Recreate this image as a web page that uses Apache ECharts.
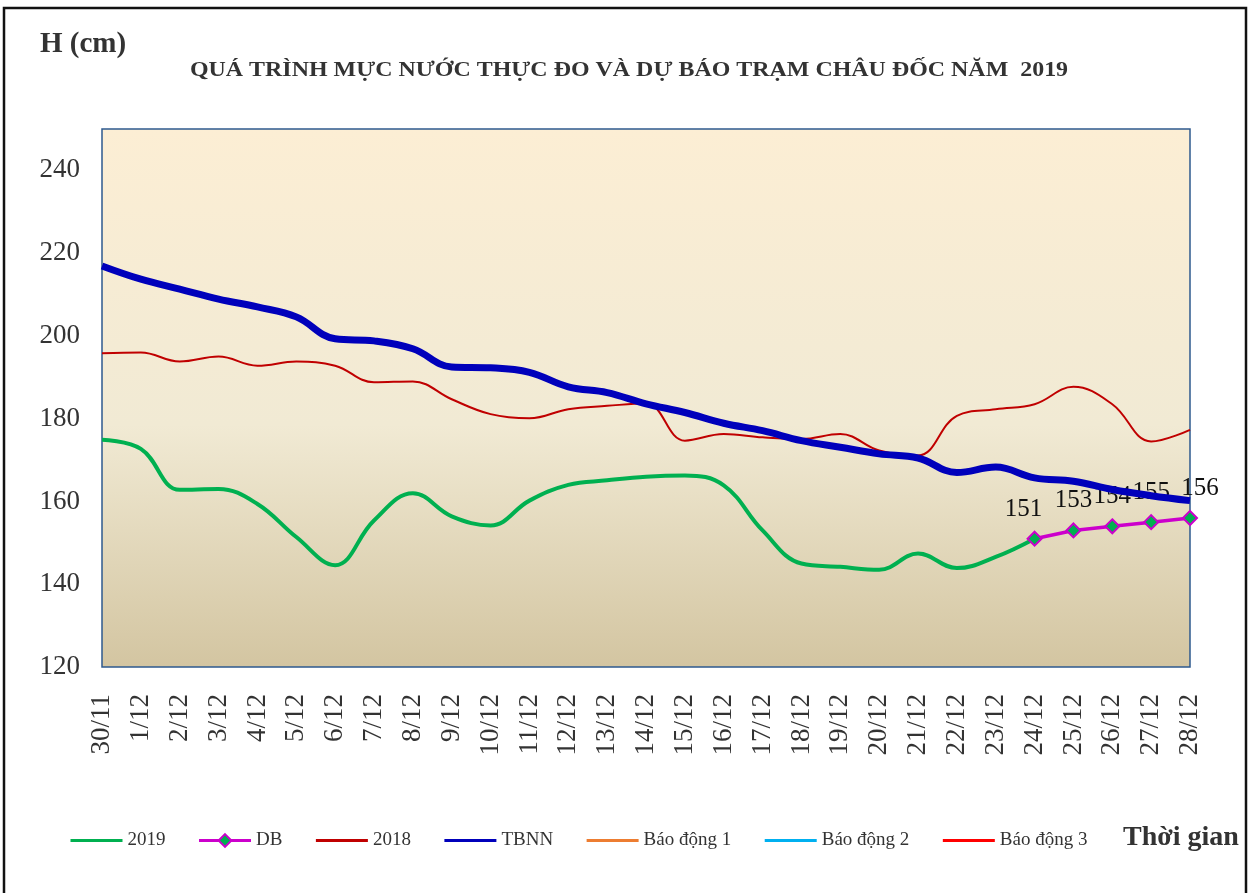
<!DOCTYPE html>
<html>
<head>
<meta charset="utf-8">
<script src="https://cdn.jsdelivr.net/npm/echarts@6/dist/echarts.min.js"></script>
<style>
html,body{margin:0;padding:0;background:#fff;}
#c{width:1254px;height:893px;}
</style>
</head>
<body>
<div id="c"></div>
<script>
const categories = ['30/11','1/12','2/12','3/12','4/12','5/12','6/12','7/12','8/12','9/12','10/12','11/12','12/12','13/12','14/12','15/12','16/12','17/12','18/12','19/12','20/12','21/12','22/12','23/12','24/12','25/12','26/12','27/12','28/12'];
const s2019 = [174.9,172.7,162.8,163,159.4,151.4,144.6,155.4,162,156.4,154.2,160.2,164,165.1,166,166.3,163.9,153,145,144.2,143.5,147.4,143.9,146.6,151];
const sDB = [null,null,null,null,null,null,null,null,null,null,null,null,null,null,null,null,null,null,null,null,null,null,null,null,151,153,154,155,156];
const s2018 = [195.8,196,193.8,195,192.8,193.8,192.8,188.8,189,184.7,181.1,180.1,182.3,183.1,183.7,174.7,176.3,175.5,175.1,176.3,172.3,171.1,180.7,182.3,183.5,187.7,183.5,174.5,177.3];
const sTBNN = [216.9,213.7,211.3,208.9,207,204.6,199.3,198.8,196.9,192.5,192.3,191.2,187.7,186.3,183.6,181.5,178.9,177.1,174.7,173.1,171.5,170.5,167,168.3,165.7,164.9,162.9,161.4,160.2];
const sBD1 = [];
const sBD2 = [];
const sBD3 = [];
const legendNames = ['2019','DB','2018','TBNN','Báo động 1','Báo động 2','Báo động 3'];
const titleText = 'QUÁ TRÌNH MỰC NƯỚC THỰC ĐO VÀ DỰ BÁO TRẠM CHÂU ĐỐC NĂM  2019';
const yMin = 120, yMax = 250, yStep = 20;

const FONT = '"Liberation Serif", "Times New Roman", serif';
const chart = echarts.init(document.getElementById('c'));

const dbLabelOffsets = {24: [-11, 0], 28: [10, 0]};
const dbData = sDB.map((v, i) => {
  if (v === null) return null;
  const o = {value: v};
  if (dbLabelOffsets[i]) o.label = {offset: dbLabelOffsets[i]};
  return o;
});

chart.setOption({
  backgroundColor: '#ffffff',
  animation: false,
  textStyle: {fontFamily: FONT},
  title: [
    {text: 'H (cm)', left: 35, top: 25,
     textStyle: {fontFamily: FONT, fontWeight: 'bold', fontSize: 29, color: '#333333'}},
    {text: 'Thời gian', left: 1118, top: 819,
     textStyle: {fontFamily: FONT, fontWeight: 'bold', fontSize: 28, color: '#333333'}}
  ],
  graphic: [
    {type: 'rect', shape: {x: 4, y: 8, width: 1242, height: 900}, silent: true, z: -1,
     style: {fill: 'none', stroke: '#111111', lineWidth: 2.5}},
    {type: 'text', x: 629, y: 71, scaleX: 1.14, silent: true,
     style: {text: titleText, fontFamily: FONT, fontWeight: 'bold', fontSize: 21, fill: '#333333',
             textAlign: 'center', textVerticalAlign: 'middle'}}
  ],
  legend: {
    left: 64, top: 826, itemWidth: 52, itemHeight: 16, itemGap: 32,
    textStyle: {fontFamily: FONT, fontSize: 19, color: '#333333'},
    lineStyle: {width: 3},
    data: legendNames.map(n => n === 'DB' ? {name: n} : {name: n, itemStyle: {opacity: 0}})
  },
  grid: {
    left: 102, right: 64, top: 129, bottom: 226, show: true,
    borderColor: '#2E5A8E', borderWidth: 1.5,
    backgroundColor: {type: 'linear', x: 0, y: 0, x2: 0, y2: 1,
      colorStops: [{offset: 0, color: '#FCEED4'}, {offset: 0.55, color: '#F1EAD4'}, {offset: 1, color: '#D3C5A1'}]}
  },
  xAxis: {
    type: 'category', data: categories, boundaryGap: false,
    axisLine: {show: false}, axisTick: {show: false},
    axisLabel: {rotate: 90, margin: 27, fontFamily: FONT, fontSize: 27, color: '#333333'}
  },
  yAxis: {
    type: 'value', min: yMin, max: yMax, interval: yStep,
    splitLine: {show: false}, axisLine: {show: false}, axisTick: {show: false},
    axisLabel: {showMaxLabel: false, margin: 22, fontFamily: FONT, fontSize: 27, color: '#333333'}
  },
  series: [
    {name: '2019', type: 'line', data: s2019, smooth: 0.4, symbol: 'none',
     lineStyle: {color: '#00B050', width: 4}, itemStyle: {color: '#00B050'}, z: 2},
    {name: 'DB', type: 'line', data: dbData, smooth: false, symbol: 'diamond', symbolSize: 14,
     lineStyle: {color: '#CC00CC', width: 3.5},
     itemStyle: {color: '#00B050', borderColor: '#CC00CC', borderWidth: 2},
     label: {show: true, position: 'top', distance: 9, fontFamily: FONT, fontSize: 25, color: '#111111'}, z: 3},
    {name: '2018', type: 'line', data: s2018, smooth: 0.4, symbol: 'none',
     lineStyle: {color: '#C00000', width: 2}, itemStyle: {color: '#C00000'}, z: 4},
    {name: 'TBNN', type: 'line', data: sTBNN, smooth: 0.4, symbol: 'none',
     lineStyle: {color: '#0000BB', width: 7}, itemStyle: {color: '#0000BB'}, z: 5},
    {name: 'Báo động 1', type: 'line', data: sBD1, symbol: 'none',
     lineStyle: {color: '#ED7D31', width: 3}, itemStyle: {color: '#ED7D31'}},
    {name: 'Báo động 2', type: 'line', data: sBD2, symbol: 'none',
     lineStyle: {color: '#00B0F0', width: 3}, itemStyle: {color: '#00B0F0'}},
    {name: 'Báo động 3', type: 'line', data: sBD3, symbol: 'none',
     lineStyle: {color: '#FF0000', width: 3}, itemStyle: {color: '#FF0000'}}
  ]
});
</script>
</body>
</html>
